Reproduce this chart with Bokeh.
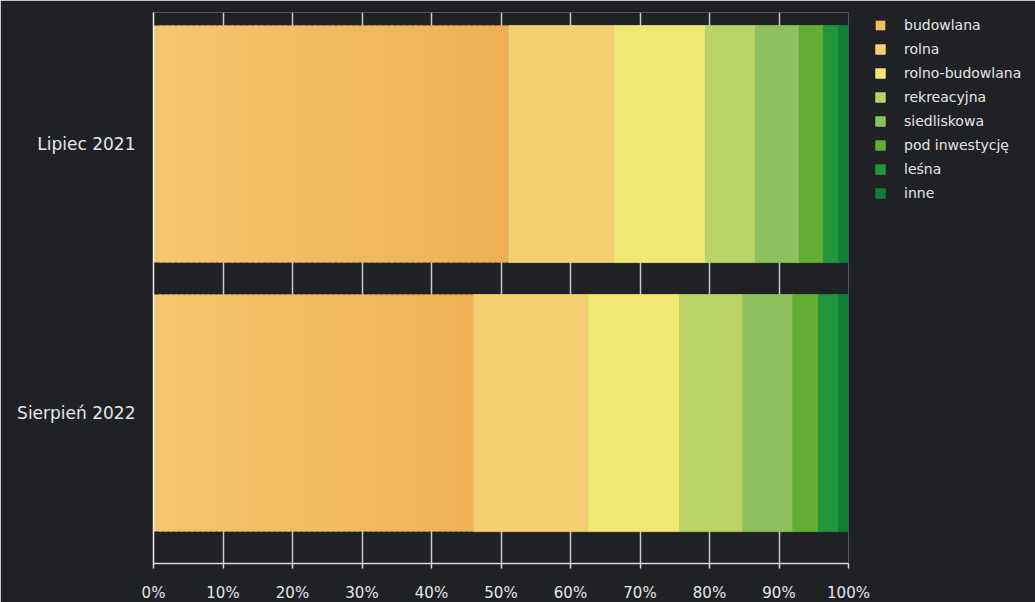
from bokeh.plotting import figure
from bokeh.models import (ColumnDataSource, Range1d, FixedTicker, Legend, LegendItem,
                          CustomJSTickFormatter)
from bokeh.embed import file_html
from bokeh.resources import INLINE

# Share of land plots on offer by type, per survey month (percent)
periods = ["Lipiec 2021", "Sierpień 2022"]
types = ["budowlana", "rolna", "rolno-budowlana", "rekreacyjna",
         "siedliskowa", "pod inwestycję", "leśna", "inne"]
lipiec_2021 = [51.1, 15.2, 13.1, 7.2, 6.3, 3.5, 2.2, 1.4]
sierpien_2022 = [46.0, 16.6, 13.1, 9.1, 7.2, 3.7, 2.9, 1.4]
x_ticks = [0, 10, 20, 30, 40, 50, 60, 70, 80, 90, 100]

colors = ["#f0b455", "#f5ce72", "#f1e874", "#b9d367",
          "#8ec15d", "#62ad33", "#21963c", "#137c35"]
grad_start = (245, 198, 112)
grad_end = (238, 176, 82)

BG = "#202125"
FONT = "DejaVu Sans"
TEXT = "#e6e6e6"

y_pos = [1, 0]  # top row first
series = [lipiec_2021, sierpien_2022]
bar_h = 0.881

p = figure(frame_width=695, frame_height=551, output_backend="svg", toolbar_location=None,
           x_range=Range1d(0, 100), y_range=Range1d(-0.559, 1.489),
           min_border_left=153, min_border_right=187, min_border_top=12,
           min_border_bottom=39)
p.background_fill_color = BG
p.border_fill_color = BG
p.outline_line_color = None

# vertical grid behind bars
p.ygrid.grid_line_color = None
p.xgrid.ticker = FixedTicker(ticks=x_ticks)
p.xgrid.grid_line_color = "#c8c8c8"
p.xgrid.grid_line_width = 1.5

# budowlana: horizontal gradient built from thin, slightly overlapping slices
n_slices = 60
grad_renderers = []
for vals, y in zip(series, y_pos):
    total = vals[0]
    step = total / n_slices
    lefts = [step * i for i in range(n_slices)]
    rights = [min(step * (i + 1.6), total) for i in range(n_slices)]
    cols = []
    for i in range(n_slices):
        t = min(lefts[i] / 51.1, 1.0)
        c = tuple(int(round(a + (b - a) * t)) for a, b in zip(grad_start, grad_end))
        cols.append("#%02x%02x%02x" % c)
    src = ColumnDataSource(dict(y=[y] * n_slices, left=lefts, right=rights, color=cols))
    r = p.hbar(y="y", left="left", right="right", height=bar_h, source=src,
               fill_color="color", line_color=None)
    grad_renderers.append(r)

items = [LegendItem(label=types[0], renderers=[grad_renderers[0]], index=n_slices // 2)]

# remaining types stacked after budowlana
for k in range(1, len(types)):
    lefts = [sum(v[:k]) for v in series]
    rights = [sum(v[:k + 1]) for v in series]
    src = ColumnDataSource(dict(y=y_pos, left=lefts, right=rights))
    r = p.hbar(y="y", left="left", right="right", height=bar_h, source=src,
               fill_color=colors[k], line_color=colors[k], line_width=0.8)
    items.append(LegendItem(label=types[k], renderers=[r]))

legend = Legend(items=items, location=(26, 360), orientation="vertical",
                background_fill_alpha=0, border_line_color=None,
                label_text_color=TEXT, label_text_font=FONT,
                label_text_font_size="14px", glyph_width=12, glyph_height=12,
                label_standoff=18, label_height=20, spacing=4, padding=0,
                margin=0)
p.add_layout(legend, "right")

# x axis
p.xaxis.ticker = FixedTicker(ticks=x_ticks)
p.xaxis.formatter = CustomJSTickFormatter(code="return tick + '%';")
p.xaxis.axis_line_color = "#d8d8d8"
p.xaxis.axis_line_width = 1.5
p.xaxis.major_tick_line_color = "#d8d8d8"
p.xaxis.major_tick_line_width = 1.5
p.xaxis.major_tick_in = 0
p.xaxis.major_tick_out = 5
p.xaxis.minor_tick_line_color = None
p.xaxis.major_label_text_color = TEXT
p.xaxis.major_label_text_font = FONT
p.xaxis.major_label_text_font_size = "15px"
p.xaxis.major_label_standoff = 15

# y axis: category labels only, line marks the 0% edge
p.yaxis.ticker = FixedTicker(ticks=y_pos)
p.yaxis.major_label_overrides = {1: periods[0], 0: periods[1]}
p.yaxis.axis_line_color = "#f0f0f0"
p.yaxis.axis_line_width = 1.5
p.yaxis.major_tick_line_color = None
p.yaxis.minor_tick_line_color = None
p.yaxis.major_label_text_color = TEXT
p.yaxis.major_label_text_font = FONT
p.yaxis.major_label_text_font_size = "17px"
p.yaxis.major_label_standoff = 12

open("out.html", "w").write(file_html(p, INLINE))
